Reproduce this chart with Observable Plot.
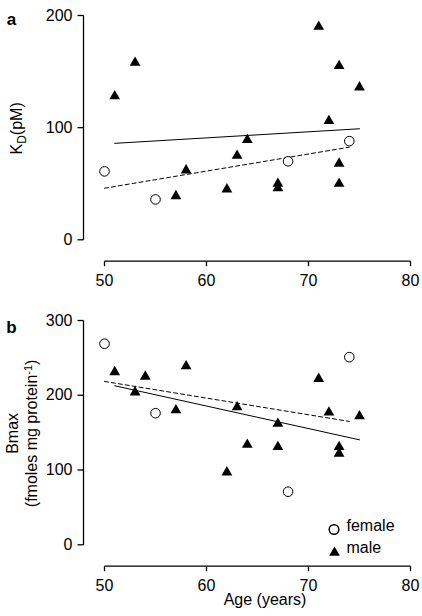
<!DOCTYPE html>
<html><head><meta charset="utf-8">
<script src="https://cdn.jsdelivr.net/npm/d3@7"></script>
<script src="https://cdn.jsdelivr.net/npm/@observablehq/plot@0.6"></script>
<style>body{margin:0;background:#fff;} #chart svg{display:block}</style>
</head><body><div id="chart"></div>
<script>
// ---- data ----
const xTicks = [50, 60, 70, 80];
const kdTicks = [0, 100, 200];
const bmaxTicks = [0, 100, 200, 300];

const femaleAge = [50, 55, 68, 74];
const femaleKD = [61, 36, 70, 88];
const femaleBmax = [269, 176, 71, 251];

const maleAgeKD = [51, 53, 57, 58, 62, 63, 64, 67, 67, 71, 72, 73, 73, 73, 75];
const maleKD = [128, 158, 39, 62, 45, 75, 89, 50, 46, 190, 106, 155, 68, 50, 136];

const maleAgeBmax = [51, 53, 54, 57, 58, 62, 63, 64, 67, 67, 71, 72, 73, 73, 75];
const maleBmax = [231, 204, 225, 180, 239, 97, 184, 134, 162, 131, 222, 177, 131, 122, 172];

const fitAgeFemale = [50, 74];
const fitAgeMale = [51, 75];
const fitKDFemale = [46, 82.6];
const fitKDMale = [86, 99];
const fitBmaxFemale = [218.5, 165];
const fitBmaxMale = [212.7, 140.4];

const legendLabels = ["female", "male"];
const xLabel = "Age (years)";

// ---- layout (pixels) ----
const W = 422;
const FL = 50, FR = 415, FT = 8, FB = 285;           // frame edges
const X_LO_PX = 104, X_HI_PX = 410;                   // first / last x tick
const Y_TOP_PX = 15, Y_ZERO_PX = 239.3;               // top / zero y tick
const GAP_X = 21, GAP_Y = 21.4;                       // axis offsets
const TICK_Y = 6, TICK_X = 5;
const FONT = "'Liberation Sans', Arial, Helvetica, sans-serif";
const FS = 16;
const AXIS_W = 1.3;

function zip(xs, ys) { return xs.map((x, i) => ({x, y: ys[i]})); }

function panel(o) {
  const xMin = xTicks[0], xMax = xTicks[xTicks.length - 1];
  const kx = (X_HI_PX - X_LO_PX) / (xMax - xMin);
  const yMin = o.ticks[0], yMax = o.ticks[o.ticks.length - 1];
  const ky = (Y_ZERO_PX - Y_TOP_PX) / (yMax - yMin);
  const xDomain = [xMin - (X_LO_PX - FL) / kx, xMax + (FR - X_HI_PX) / kx];
  const yDomain = [yMin - (FB - Y_ZERO_PX) / ky, yMax + (Y_TOP_PX - FT) / ky];
  const xAxisPos = xMin - GAP_X / kx;     // where the y axis line sits
  const yAxisPos = yMin - GAP_Y / ky;     // where the x axis line sits

  const axisLines = [
    {x1: xAxisPos, x2: xAxisPos, y1: yMin, y2: yMax},
    {x1: xMin, x2: xMax, y1: yAxisPos, y2: yAxisPos}
  ];
  const yTickSegs = o.ticks.map(t => ({x1: xAxisPos - TICK_Y / kx, x2: xAxisPos, y1: t, y2: t}));
  const xTickSegs = xTicks.map(t => ({x1: t, x2: t, y1: yAxisPos, y2: yAxisPos - TICK_X / ky}));
  const seg = {x1: "x1", x2: "x2", y1: "y1", y2: "y2", stroke: "black", strokeWidth: AXIS_W};

  const marks = [
    Plot.link(axisLines, seg),
    Plot.link(yTickSegs, seg),
    Plot.link(xTickSegs, seg),
    Plot.text(o.ticks.map(t => ({x: xAxisPos, y: t, label: String(t)})), {x: "x", y: "y", text: "label", dx: -(TICK_Y + 5), textAnchor: "end", fontSize: FS}),
    Plot.text(xTicks.map(t => ({x: t, y: yAxisPos, label: String(t)})), {x: "x", y: "y", text: "label", dy: 20, textAnchor: "middle", fontSize: FS}),
    Plot.line(zip(fitAgeMale, o.fitM), {x: "x", y: "y", stroke: "black", strokeWidth: 1}),
    Plot.line(zip(fitAgeFemale, o.fitF), {x: "x", y: "y", stroke: "black", strokeWidth: 1, strokeDasharray: "4,3"}),
    Plot.dot(zip(femaleAge, o.femaleY), {x: "x", y: "y", r: 4.8, symbol: "circle", fill: "white", stroke: "black", strokeWidth: 1}),
    Plot.dot(zip(o.maleAge, o.maleY), {x: "x", y: "y", r: 4, symbol: "triangle", fill: "black"}),
    Plot.text([o.letter], {frameAnchor: "top-left", dx: -39, dy: o.letterDy, fontSize: 17, fontWeight: "bold", textAnchor: "middle"})
  ];
  o.yLabels.forEach(l => marks.push(Plot.text([l.text], {frameAnchor: "left", rotate: -90, dx: l.dx, dy: -18.6, fontSize: FS, textAnchor: "middle"})));
  if (o.xLabel) marks.push(Plot.text([o.xLabel], {frameAnchor: "bottom", dx: 32, dy: 14, fontSize: FS, textAnchor: "middle"}));
  if (o.legend) {
    marks.push(
      Plot.dot([legendLabels[0]], {frameAnchor: "bottom-right", dx: -81.5, dy: -61, r: 4.8, symbol: "circle", fill: "white", stroke: "black"}),
      Plot.dot([legendLabels[1]], {frameAnchor: "bottom-right", dx: -81, dy: -37.8, r: 4, symbol: "triangle", fill: "black"}),
      Plot.text([legendLabels[0]], {frameAnchor: "bottom-right", dx: -69, dy: -59.8, textAnchor: "start", fontSize: FS}),
      Plot.text([legendLabels[1]], {frameAnchor: "bottom-right", dx: -69, dy: -37.8, textAnchor: "start", fontSize: FS})
    );
  }
  return Plot.plot({
    width: W, height: o.height,
    marginLeft: FL, marginRight: W - FR, marginTop: FT, marginBottom: o.height - FB,
    x: {domain: xDomain, axis: null},
    y: {domain: yDomain, axis: null},
    style: {fontFamily: FONT, fontSize: FS + "px", background: "white", color: "black"},
    marks
  });
}

const a = panel({letter: "a", letterDy: 4, ticks: kdTicks, femaleY: femaleKD, maleAge: maleAgeKD, maleY: maleKD,
  fitF: fitKDFemale, fitM: fitKDMale, height: 305, yLabels: [{text: "KD(pM)", dx: -34}]});
const b = panel({letter: "b", letterDy: 7, ticks: bmaxTicks, femaleY: femaleBmax, maleAge: maleAgeBmax, maleY: maleBmax,
  fitF: fitBmaxFemale, fitM: fitBmaxMale, height: 311, xLabel, legend: true,
  yLabels: [{text: "Bmax", dx: -38}, {text: "(fmoles mg protein-1)", dx: -19}]});

const chart = document.getElementById("chart");
chart.appendChild(a);
chart.appendChild(b);

// subscript / superscript in axis titles
d3.selectAll("#chart text").each(function () {
  const t = this.textContent;
  if (t === "KD(pM)") {
    this.innerHTML = 'K<tspan dy="4" font-size="12">D</tspan><tspan dy="-4">(pM)</tspan>';
  } else if (t === "(fmoles mg protein-1)") {
    this.innerHTML = '(fmoles mg protein<tspan dy="-5" font-size="11">-1</tspan><tspan dy="5">)</tspan>';
  }
});
</script>
</body></html>
